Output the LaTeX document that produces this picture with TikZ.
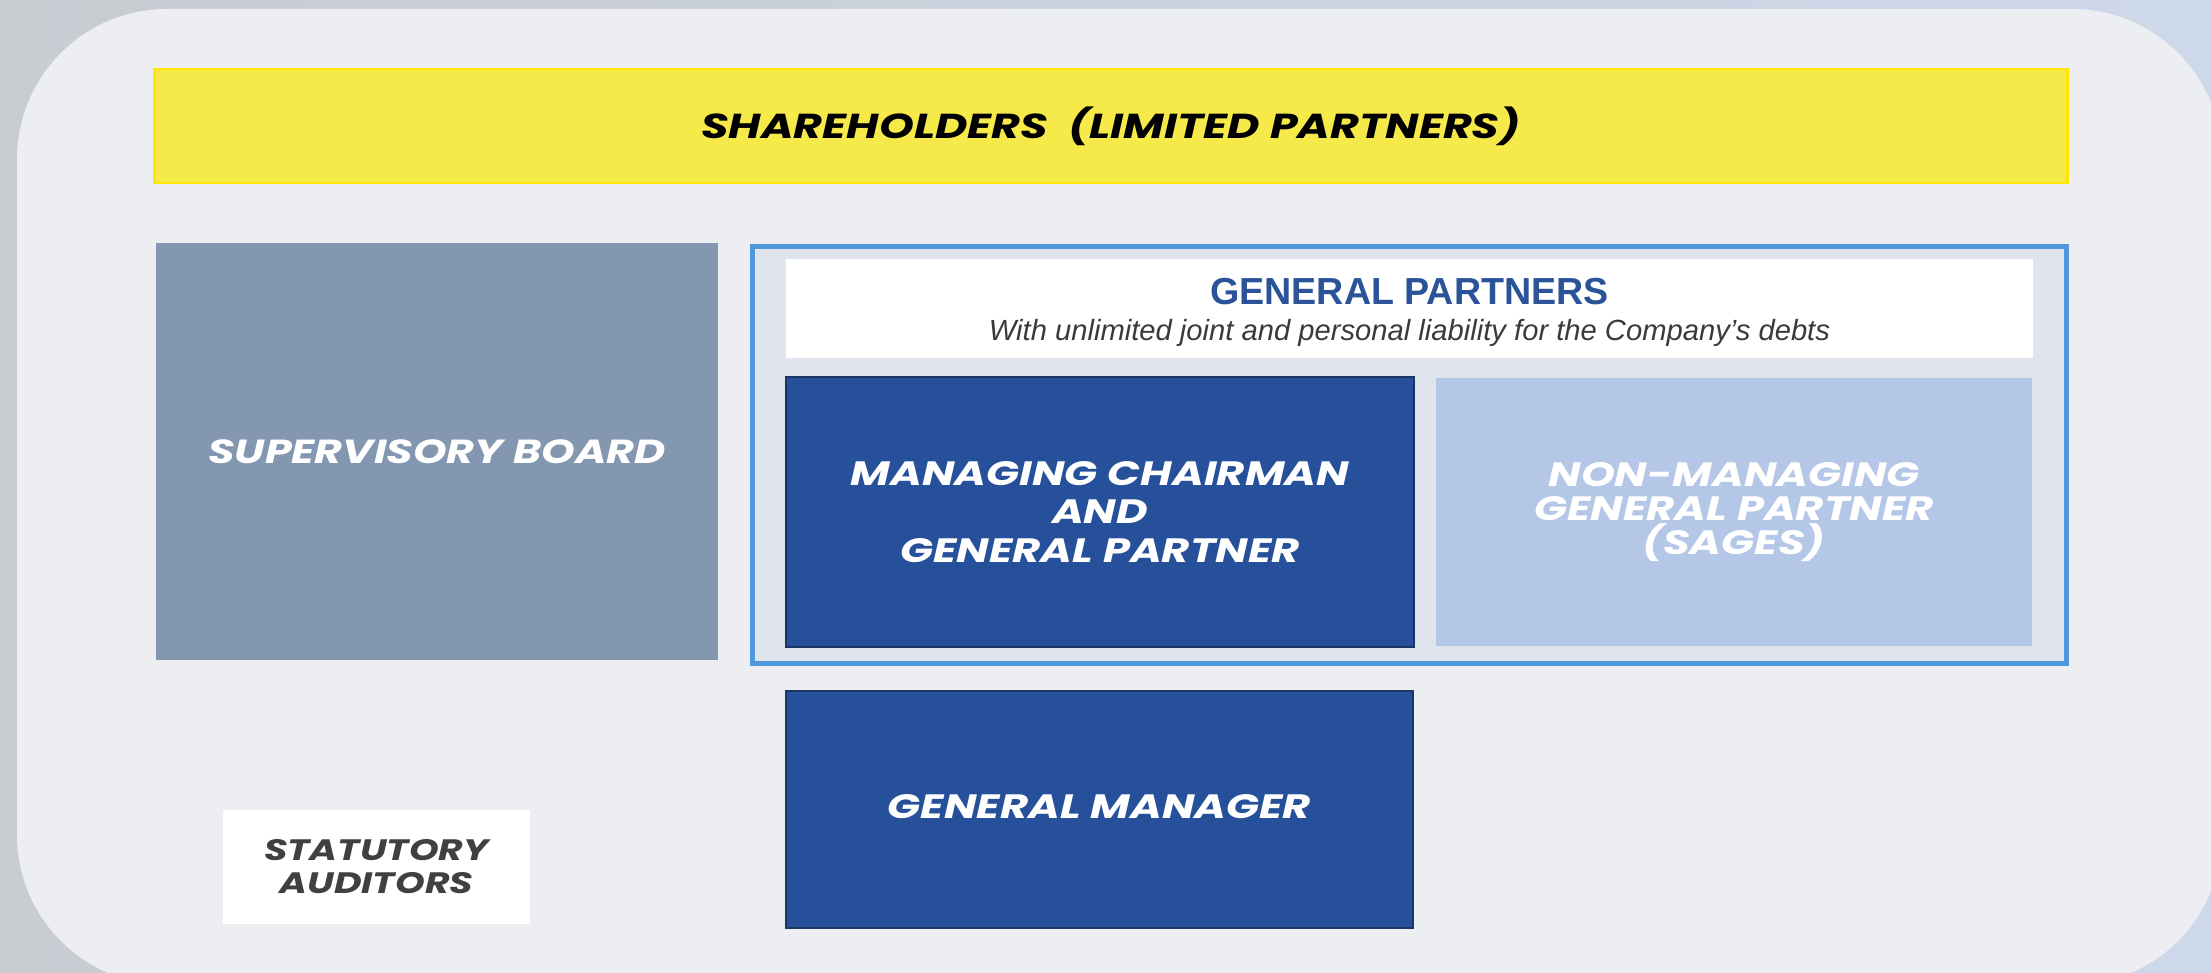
\documentclass[tikz,border=0pt]{standalone}
\usepackage{fontspec}
\setmainfont{Liberation Sans}
\newfontfamily\widefont{Poppins}[FakeStretch=1.28]
\newfontfamily\headfont{Liberation Sans}

\definecolor{bgleft}{HTML}{C9CCD1}
\definecolor{bgright}{HTML}{CDD8EA}
\definecolor{panel}{HTML}{ECEEF1}
\definecolor{shyellow}{HTML}{F6E94A}
\definecolor{shedge}{HTML}{FFE500}
\definecolor{svgray}{HTML}{8497B0}
\definecolor{gpframe}{HTML}{5197DB}
\definecolor{gpfill}{HTML}{DFE4ED}
\definecolor{mcblue}{HTML}{26519A}
\definecolor{mcedge}{HTML}{1B3564}
\definecolor{nmblue}{HTML}{B4C7E7}
\definecolor{gptext}{HTML}{2B539A}
\definecolor{notetext}{HTML}{3A3A3A}
\definecolor{auditext}{HTML}{404040}

\tikzset{
    orgbox/.style={rectangle, inner sep=0pt, align=center, text=white,
        font=\widefont\bfseries\itshape\fontsize{9.6}{11}\selectfont},
    darkbox/.style={orgbox, fill=mcblue, draw=mcedge, line width=0.5pt},
}

\begin{document}
\begin{tikzpicture}[x=0.01cm, y=-0.01cm]
    \useasboundingbox (0,0) rectangle (2211,973);
    \shade[left color=bgleft, right color=bgright] (0,0) rectangle (2211,973);
    \fill[panel, rounded corners=1.5cm] (17,9) rectangle (2222,985);

    % top row
    \node[orgbox, fill=shyellow, draw=shedge, line width=0.8pt, text=black,
          minimum width=19.12cm, minimum height=1.14cm,
          font=\widefont\bfseries\itshape\fontsize{9.85}{12}\selectfont]
        (holders) at (1111,126) {SHAREHOLDERS\ \ (LIMITED PARTNERS)};

    % left column
    \node[orgbox, fill=svgray, minimum width=5.62cm, minimum height=4.17cm,
          font=\widefont\bfseries\itshape\fontsize{9.5}{12}\selectfont]
        (board) at (437,451.5) {SUPERVISORY BOARD};
    \node[orgbox, fill=white, text=auditext, minimum width=3.07cm, minimum height=1.14cm,
          font=\widefont\bfseries\itshape\fontsize{8.4}{9.4}\selectfont]
        (auditors) at (376.5,867) {STATUTORY\\AUDITORS};

    % general partners
    \node[rectangle, fill=gpfill, draw=gpframe, line width=1.4pt,
          minimum width=13.14cm, minimum height=4.17cm] (partners) at (1409.5,455) {};
    \node[rectangle, fill=white, minimum width=12.47cm, minimum height=0.99cm] (gphead) at (1409.5,308.5) {};
    \node[text=gptext, font=\headfont\bfseries\fontsize{10.7}{12}\selectfont, inner sep=0pt]
        (gptitle) at (1409.5,292) {GENERAL PARTNERS};
    \node[text=notetext, font=\headfont\itshape\fontsize{8.3}{9.5}\selectfont, inner sep=0pt]
        (gpnote) at (1409.5,333) {With unlimited joint and personal liability for the Company’s debts};

    \node[darkbox, minimum width=6.28cm, minimum height=2.70cm]
        (chairman) at (1100,512) {MANAGING CHAIRMAN\\AND\\GENERAL PARTNER};
    \node[orgbox, fill=nmblue, minimum width=5.96cm, minimum height=2.68cm,
          font=\widefont\bfseries\itshape\fontsize{9.6}{9.6}\selectfont]
        (sages) at (1734,512) {NON-MANAGING\\GENERAL PARTNER\\(SAGES)};

    % bottom
    \node[darkbox, minimum width=6.27cm, minimum height=2.37cm]
        (manager) at (1099.5,809.5) {\raisebox{1.7pt}{GENERAL MANAGER}};
\end{tikzpicture}
\end{document}
